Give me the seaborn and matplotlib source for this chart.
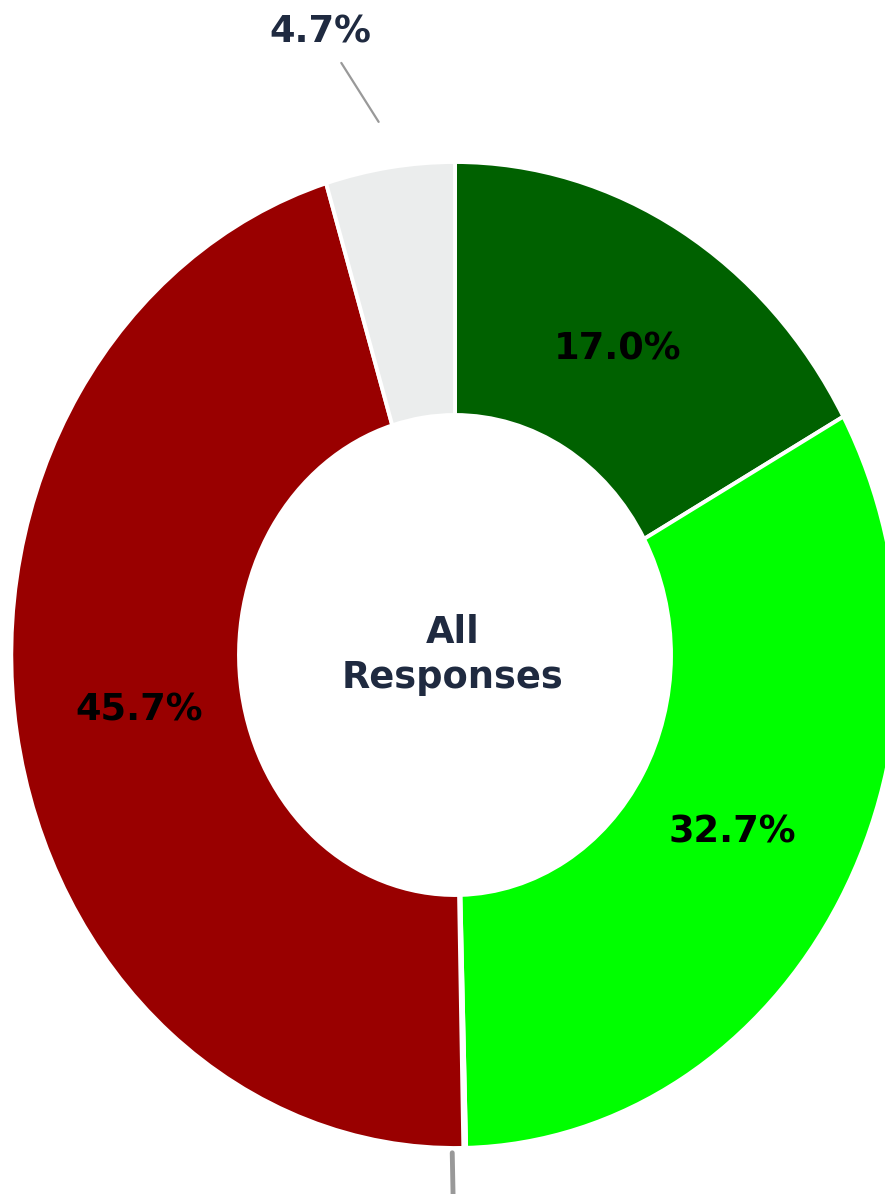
import matplotlib
matplotlib.use("Agg")
import matplotlib.pyplot as plt
import numpy as np
import seaborn as sns

# slice values, clockwise from the top
labels = ['Strongly agree', 'Agree', 'Neutral', 'Disagree', 'No answer']
values = [17.0, 32.7, 0.1, 45.7, 4.7]
pct_text = ['17.0%', '32.7%', '', '45.7%', '4.7%']
colors = ['#006100', '#00ff00', '#9a9a9a', '#990000', '#ebeded']
center_text = 'All\nResponses'

sns.set_style('white')
plt.rcParams['font.family'] = ['DejaVu Sans']

fig = plt.figure(figsize=(8.85, 11.94), dpi=100)
ax = fig.add_axes([0, 0, 1, 1])

R = 493
wedges, _ = ax.pie(values, radius=R, startangle=90, counterclock=False,
                   colors=colors,
                   wedgeprops=dict(width=253, edgecolor='white', linewidth=2.8))

navy = '#1f2a40'
for w, txt, v in zip(wedges, pct_text, values):
    mid = np.deg2rad((w.theta1 + w.theta2) / 2)
    if v >= 10:
        ax.text(0.72 * R * np.cos(mid), 0.72 * R * np.sin(mid), txt,
                ha='center', va='center', fontsize=26.5, fontweight='bold',
                color='black')
    elif v >= 1:
        # small slice: label outside with a leader line
        a1 = mid + np.deg2rad(0.6)
        a2 = mid + np.deg2rad(3.6)
        ax.plot([1.095 * R * np.cos(a1), 1.228 * R * np.cos(a2)],
                [1.095 * R * np.sin(a1), 1.228 * R * np.sin(a2)],
                color='#999999', lw=1.6)
        a3 = mid + np.deg2rad(5.1)
        ax.text(1.30 * R * np.cos(a3), 1.30 * R * np.sin(a3), txt,
                ha='center', va='center', fontsize=26.5, fontweight='bold',
                color=navy)
    else:
        ax.plot([1.01 * R * np.cos(mid) - 14, 1.10 * R * np.cos(mid) - 14],
                [1.01 * R * np.sin(mid), 1.10 * R * np.sin(mid)],
                color='#999999', lw=3.5)

ax.text(-3, 0, center_text, ha='center', va='center', fontsize=26.5,
        fontweight='bold', color=navy, linespacing=1.3)

# the reference donut is squashed horizontally (~0.9)
sx = 0.9
ax.set_xlim(-455 / sx, 430 / sx)
ax.set_ylim(-539, 655)
ax.set_aspect('auto')
ax.axis('off')

fig.savefig('out.png', dpi=100, facecolor='white')
